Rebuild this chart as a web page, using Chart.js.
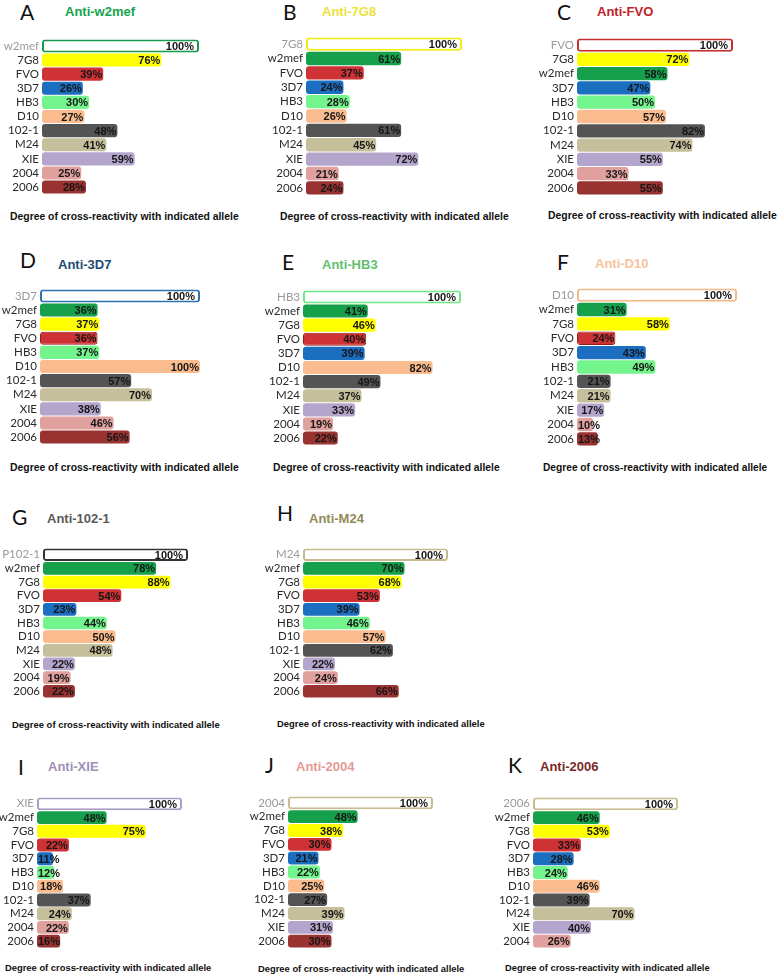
<!DOCTYPE html>
<html>
<head>
<meta charset="utf-8">
<script src="https://cdn.jsdelivr.net/npm/chart.js@4"></script>
<style>
  body { margin: 0; background: #fff; }
  #page { position: relative; width: 778px; height: 976px; overflow: hidden; background: #fff; }
  .letter { position: absolute; font-family: Lato, "Open Sans", sans-serif; font-size: 21px; line-height: 22px; color: #111; }
  .title { position: absolute; font-family: "Liberation Sans", Arial, sans-serif; font-weight: bold; font-size: 13px; line-height: 14px; white-space: nowrap; }
  .axis { position: absolute; font-family: "Liberation Sans", Arial, sans-serif; font-weight: bold; line-height: 12px; color: #111; white-space: nowrap; }
  canvas { position: absolute; }
</style>
</head>
<body>
<div id="page"></div>
<script>
// categories and values, one pair per panel (first row = homologous allele, 100%)
const catsA = ["w2mef", "7G8", "FVO", "3D7", "HB3", "D10", "102-1", "M24", "XIE", "2004", "2006"];
const valsA = [100, 76, 39, 26, 30, 27, 48, 41, 59, 25, 28];
const catsB = ["7G8", "w2mef", "FVO", "3D7", "HB3", "D10", "102-1", "M24", "XIE", "2004", "2006"];
const valsB = [100, 61, 37, 24, 28, 26, 61, 45, 72, 21, 24];
const catsC = ["FVO", "7G8", "w2mef", "3D7", "HB3", "D10", "102-1", "M24", "XIE", "2004", "2006"];
const valsC = [100, 72, 58, 47, 50, 57, 82, 74, 55, 33, 55];
const catsD = ["3D7", "w2mef", "7G8", "FVO", "HB3", "D10", "102-1", "M24", "XIE", "2004", "2006"];
const valsD = [100, 36, 37, 36, 37, 100, 57, 70, 38, 46, 56];
const catsE = ["HB3", "w2mef", "7G8", "FVO", "3D7", "D10", "102-1", "M24", "XIE", "2004", "2006"];
const valsE = [100, 41, 46, 40, 39, 82, 49, 37, 33, 19, 22];
const catsF = ["D10", "w2mef", "7G8", "FVO", "3D7", "HB3", "102-1", "M24", "XIE", "2004", "2006"];
const valsF = [100, 31, 58, 24, 43, 49, 21, 21, 17, 10, 13];
const catsG = ["P102-1", "w2mef", "7G8", "FVO", "3D7", "HB3", "D10", "M24", "XIE", "2004", "2006"];
const valsG = [100, 78, 88, 54, 23, 44, 50, 48, 22, 19, 22];
const catsH = ["M24", "w2mef", "7G8", "FVO", "3D7", "HB3", "D10", "102-1", "XIE", "2004", "2006"];
const valsH = [100, 70, 68, 53, 39, 46, 57, 62, 22, 24, 66];
const catsI = ["XIE", "w2mef", "7G8", "FVO", "3D7", "HB3", "D10", "102-1", "M24", "2004", "2006"];
const valsI = [100, 48, 75, 22, 11, 12, 18, 37, 24, 22, 16];
const catsJ = ["2004", "w2mef", "7G8", "FVO", "3D7", "HB3", "D10", "102-1", "M24", "XIE", "2006"];
const valsJ = [100, 48, 38, 30, 21, 22, 25, 27, 39, 31, 30];
const catsK = ["2006", "w2mef", "7G8", "FVO", "3D7", "HB3", "D10", "102-1", "M24", "XIE", "2004"];
const valsK = [100, 46, 53, 33, 28, 24, 46, 39, 70, 40, 26];

const panelTitles = {
  A: "Anti-w2mef", B: "Anti-7G8", C: "Anti-FVO", D: "Anti-3D7", E: "Anti-HB3", F: "Anti-D10",
  G: "Anti-102-1", H: "Anti-M24", I: "Anti-XIE", J: "Anti-2004", K: "Anti-2006"
};
const axisText = "Degree of cross-reactivity with indicated allele";

const alleleColors = {
  "w2mef": "#17a04b", "7G8": "#ffff00", "FVO": "#cf3235", "3D7": "#1c6ec0", "HB3": "#74f48c",
  "D10": "#fabc8e", "102-1": "#545454", "P102-1": "#545454", "M24": "#c6bf9b", "XIE": "#b4a5cc",
  "2004": "#e0a09d", "2006": "#983332"
};
const titleColors = {
  A: "#13a54c", B: "#ece23a", C: "#c1222b", D: "#1f4b75", E: "#62c070", F: "#f7c39b",
  G: "#5a5a5a", H: "#948a57", I: "#9d90b7", J: "#e59a98", K: "#7a2a2a"
};
const outlineColors = {
  A: "#1b9a4c", B: "#f2ea10", C: "#c3302f", D: "#2c73b3", E: "#6fe884", F: "#f3b988",
  G: "#333333", H: "#c5b98f", I: "#a99cc4", J: "#c9bb92", K: "#c9bb92"
};

// placement of each panel on the page
const layout = {
  A: { bx: 42, w: 157, c0: 36.5, rh: 15.95, lx: 20, ly: 1, tx: 65, ty: 5, ax: 10, ay: 211, fs: 10.4 },
  B: { bx: 306, w: 156, c0: 35.5, rh: 16.15, lx: 283, ly: 1, tx: 322, ty: 5, ax: 280, ay: 211, fs: 10.4 },
  C: { bx: 577, w: 156, c0: 36, rh: 16.1, lx: 557, ly: 1, tx: 597, ty: 5, ax: 548, ay: 210, fs: 10.4 },
  D: { bx: 40, w: 160, c0: 287, rh: 15.95, lx: 20, ly: 249, tx: 58, ty: 258, ax: 10, ay: 462, fs: 10.4 },
  E: { bx: 303, w: 158, c0: 288, rh: 15.95, lx: 282, ly: 251, tx: 322, ty: 258, ax: 273, ay: 462, fs: 10.3 },
  F: { bx: 577, w: 160, c0: 286, rh: 16.15, lx: 557, ly: 251, tx: 595, ty: 257, ax: 543, ay: 462, fs: 10.2 },
  G: { bx: 43, w: 145, c0: 546, rh: 15.45, lx: 12, ly: 506, tx: 47, ty: 512, ax: 12, ay: 719, fs: 9.45 },
  H: { bx: 303, w: 145, c0: 546, rh: 15.45, lx: 277, ly: 502, tx: 309, ty: 512, ax: 277, ay: 718, fs: 9.45 },
  I: { bx: 37, w: 145, c0: 795, rh: 15.5, lx: 18, ly: 756, tx: 48, ty: 760, ax: 5, ay: 962, fs: 9.4 },
  J: { bx: 288, w: 145, c0: 794, rh: 15.6, lx: 265, ly: 754, tx: 296, ty: 760, ax: 258, ay: 963, fs: 9.4 },
  K: { bx: 533, w: 145, c0: 795, rh: 15.5, lx: 508, ly: 754, tx: 540, ty: 760, ax: 505, ay: 962, fs: 9.3 }
};

const panelData = {
  A: [catsA, valsA], B: [catsB, valsB], C: [catsC, valsC], D: [catsD, valsD],
  E: [catsE, valsE], F: [catsF, valsF], G: [catsG, valsG], H: [catsH, valsH],
  I: [catsI, valsI], J: [catsJ, valsJ], K: [catsK, valsK]
};

// percent text drawn inside the end of each bar
const valueLabels = {
  id: "valueLabels",
  afterDatasetsDraw(chart) {
    const ctx = chart.ctx;
    const meta = chart.getDatasetMeta(0);
    const vals = chart.data.datasets[0].data;
    ctx.save();
    ctx.font = 'bold 11px "Liberation Sans", Arial, sans-serif';
    ctx.fillStyle = "#161616";
    ctx.textAlign = "right";
    ctx.textBaseline = "middle";
    meta.data.forEach((bar, i) => {
      const txt = vals[i] + "%";
      const tw = ctx.measureText(txt).width;
      let x = bar.x - (i === 0 ? 5 : 1);
      if (x - tw < bar.base + 1) x = bar.base + 1 + tw;
      ctx.fillText(txt, x, bar.y + 1);
    });
    ctx.restore();
  }
};

const page = document.getElementById("page");
const axisW = 46;
const padR = 8;

Object.keys(layout).forEach(key => {
  const L = layout[key];
  const cats = panelData[key][0];
  const vals = panelData[key][1];

  const letter = document.createElement("div");
  letter.className = "letter";
  letter.style.left = L.lx + "px";
  letter.style.top = L.ly + "px";
  letter.textContent = key;
  page.appendChild(letter);

  const title = document.createElement("div");
  title.className = "title";
  title.style.left = L.tx + "px";
  title.style.top = L.ty + "px";
  title.style.color = titleColors[key];
  title.textContent = panelTitles[key];
  page.appendChild(title);

  const axis = document.createElement("div");
  axis.className = "axis";
  axis.style.left = L.ax + "px";
  axis.style.top = L.ay + "px";
  axis.style.fontSize = L.fs + "px";
  axis.textContent = axisText;
  page.appendChild(axis);

  // canvas never starts left of the page edge, so the axis width adapts
  const aw = Math.min(axisW, L.bx);
  const h = Math.round(cats.length * L.rh);
  const cv = document.createElement("canvas");
  cv.width = aw + L.w + padR;
  cv.height = h;
  cv.style.left = (L.bx - aw) + "px";
  cv.style.top = Math.round(L.c0 - L.rh / 2) + "px";
  page.appendChild(cv);

  const bg = cats.map((c, i) => i === 0 ? "#ffffff" : alleleColors[c]);
  const bc = cats.map((c, i) => i === 0 ? outlineColors[key] : (c === "FVO" && "DEF".includes(key) ? "#8e1d1d" : alleleColors[c]));
  const bw = cats.map((c, i) => i === 0 ? 2 : (c === "FVO" && "DEF".includes(key) ? 1 : 0));

  new Chart(cv, {
    type: "bar",
    data: {
      labels: cats,
      datasets: [{
        data: vals,
        backgroundColor: bg,
        borderColor: bc,
        borderWidth: bw,
        borderSkipped: false,
        borderRadius: 3,
        barPercentage: 0.93,
        categoryPercentage: 1
      }]
    },
    options: {
      indexAxis: "y",
      responsive: false,
      animation: false,
      layout: { padding: { left: 0, right: padR, top: 0, bottom: 0 } },
      plugins: { legend: { display: false }, tooltip: { enabled: false } },
      scales: {
        x: { display: false, min: 0, max: 100 },
        y: {
          grid: { display: false, drawTicks: false },
          border: { display: false },
          afterFit(scale) { scale.width = aw; },
          ticks: {
            autoSkip: false,
            padding: 3,
            font: { family: "Lato, 'Open Sans', sans-serif", size: 11.5 },
            color: ctx => ctx.index === 0 ? "#9a9a9a" : "#2a2a2a"
          }
        }
      }
    },
    plugins: [valueLabels]
  });
});
</script>
</body>
</html>
